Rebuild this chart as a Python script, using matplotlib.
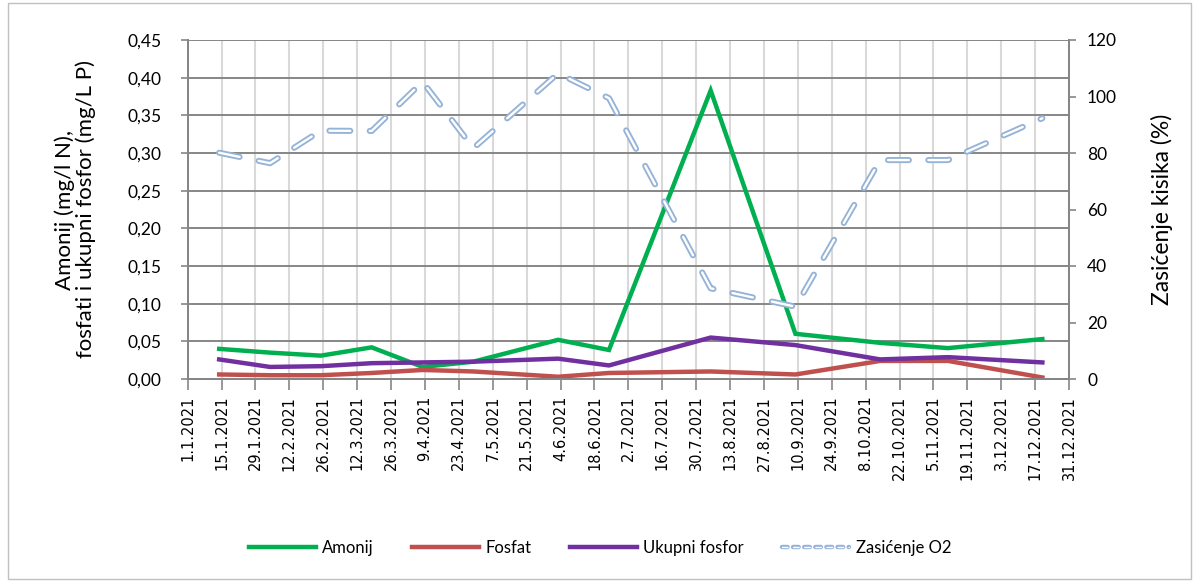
import matplotlib
matplotlib.use("Agg")
import matplotlib.pyplot as plt
import matplotlib.patheffects as pe
from matplotlib.patches import Rectangle
from matplotlib.lines import Line2D
import pandas as pd

plt.rcParams['font.family'] = ['Lato', 'DejaVu Sans']
plt.rcParams['lines.scale_dashes'] = False

# sampling dates and measured values
dates = ["14.1.2021", "4.2.2021", "25.2.2021", "18.3.2021", "8.4.2021", "29.4.2021",
         "3.6.2021", "24.6.2021", "5.8.2021", "9.9.2021", "14.10.2021", "11.11.2021",
         "20.12.2021"]
amonij = [0.040, 0.035, 0.031, 0.042, 0.016, 0.023, 0.052, 0.0385, 0.383, 0.060, 0.048, 0.041, 0.053]
fosfat = [0.006, 0.005, 0.005, 0.008, 0.012, 0.010, 0.003, 0.008, 0.010, 0.006, 0.024, 0.024, 0.002]
ukupni_fosfor = [0.026, 0.016, 0.017, 0.021, 0.022, 0.023, 0.027, 0.018, 0.055, 0.045, 0.026, 0.029, 0.022]
zasicenje_o2 = [80.1, 76.4, 87.9, 87.8, 105.2, 81.7, 108.2, 99.4, 32.1, 25.6, 77.5, 77.5, 92.3]

tick_labels = ["1.1.2021", "15.1.2021", "29.1.2021", "12.2.2021", "26.2.2021", "12.3.2021",
               "26.3.2021", "9.4.2021", "23.4.2021", "7.5.2021", "21.5.2021", "4.6.2021",
               "18.6.2021", "2.7.2021", "16.7.2021", "30.7.2021", "13.8.2021", "27.8.2021",
               "10.9.2021", "24.9.2021", "8.10.2021", "22.10.2021", "5.11.2021", "19.11.2021",
               "3.12.2021", "17.12.2021", "31.12.2021"]
left_ticks = [0.00, 0.05, 0.10, 0.15, 0.20, 0.25, 0.30, 0.35, 0.40, 0.45]
right_ticks = [0, 20, 40, 60, 80, 100, 120]

x = pd.to_datetime(dates, format="%d.%m.%Y")
xt = pd.to_datetime(tick_labels, format="%d.%m.%Y")

W, H = 1199, 581
fig = plt.figure(figsize=(W / 100, H / 100), dpi=100)
fig.patches.append(Rectangle((8 / W, 2 / H), 1183 / W, 576 / H, transform=fig.transFigure,
                             fill=False, edgecolor='#c0c0c0', linewidth=1))

ax = fig.add_axes([187.7 / W, 1 - 379 / H, 881.3 / W, 339 / H])
ax2 = ax.twinx()

gray = '#868686'
o2_blue = '#95b3d7'
l1, = ax.plot(x, amonij, color='#00b050', lw=3.2, solid_joinstyle='miter', label='Amonij')
l2, = ax.plot(x, fosfat, color='#c0504d', lw=3.2, label='Fosfat')
l3, = ax.plot(x, ukupni_fosfor, color='#7030a0', lw=3.2, label='Ukupni fosfor')

dash = (0, (15, 14))
ax2.plot(x, zasicenje_o2, color=o2_blue, lw=4.4, linestyle=dash,
         dash_capstyle='round', dash_joinstyle='round')
ax2.plot(x, zasicenje_o2, color='white', lw=1.7, linestyle=dash,
         dash_capstyle='round', dash_joinstyle='round')

ax.set_xlim(xt[0], xt[-1])
ax.set_ylim(0, 0.45)
ax2.set_ylim(0, 120)

ax.set_xticks(xt)
ax.set_xticklabels(tick_labels, rotation=90, fontsize=10.5, family='DejaVu Sans')
ax.set_yticks(left_ticks)
ax.set_yticklabels([f"{v:.2f}".replace('.', ',') for v in left_ticks], fontsize=12.5)
ax2.set_yticks(right_ticks)
ax2.set_yticklabels([str(v) for v in right_ticks], fontsize=12.5)

ax.set_axisbelow(True)
ax.yaxis.grid(True, color=gray, lw=1.4)
ax.xaxis.grid(True, color='#d9d9d9', lw=1.5)

for a in (ax, ax2):
    for s in a.spines.values():
        s.set_color(gray)
        s.set_linewidth(1.4)
    a.spines['top'].set_visible(False)
ax.tick_params(axis='x', length=8, width=1.2, color=gray, pad=4)
ax.tick_params(axis='y', length=5, width=1.2, color=gray, pad=14)
ax2.tick_params(axis='y', length=5, width=1.2, color=gray, pad=8)

ax.set_ylabel("Amonij (mg/l N),\nfosfati i ukupni fosfor (mg/L P)", fontsize=16, linespacing=1.0)
ax.yaxis.set_label_coords(-0.104, 0.5)
ax2.set_ylabel("Zasićenje kisika (%)", fontsize=16.5, rotation=90)
ax2.yaxis.set_label_coords(1.093, 0.5)

# legend key for O2: short double-line dashes
o2_key = Line2D([], [], color='white', lw=1.0, linestyle=(0, (4, 4)), dash_capstyle='round',
                path_effects=[pe.Stroke(linewidth=3.2, foreground=o2_blue), pe.Normal()])

fig.legend([l1, l2, l3, o2_key], ['Amonij', 'Fosfat', 'Ukupni fosfor', 'Zasićenje O2'],
           loc='center', bbox_to_anchor=(600 / W, 1 - 548 / H), ncol=4, frameon=False,
           fontsize=12, handlelength=4.0, handletextpad=0.4, columnspacing=2.3)

fig.savefig("out.png", dpi=100)
